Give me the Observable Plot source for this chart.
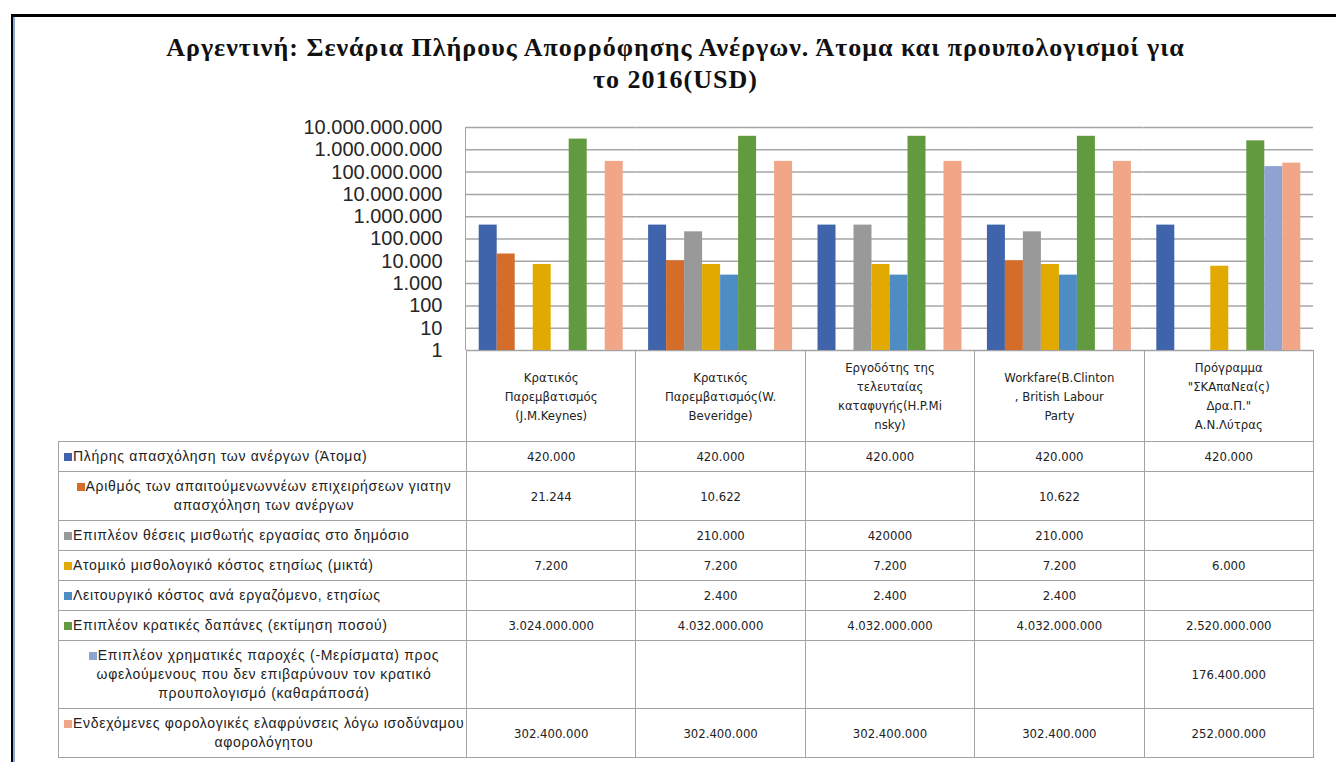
<!DOCTYPE html>
<html>
<head>
<meta charset="utf-8">
<script src="https://cdn.jsdelivr.net/npm/d3@7"></script>
<script src="https://cdn.jsdelivr.net/npm/@observablehq/plot@0.6"></script>
<style>
  html, body { margin: 0; padding: 0; background: #fff; }
  #page { position: relative; width: 1336px; height: 762px; overflow: hidden; background: #fff; }
  .line { position: absolute; }
  #title { position: absolute; top: 32px; left: 15px; width: 1321px; text-align: center;
    font-family: "Liberation Serif", "Times New Roman", serif; font-weight: bold; font-size: 26px;
    letter-spacing: 1px; line-height: 32px; color: #111; white-space: pre-line; }
  #chart { position: absolute; top: 115px; left: 0; }
  #tbl { position: absolute; left: 58px; top: 350px; border-collapse: collapse; table-layout: fixed; }
  #tbl td { border: 1px solid #a3a3a3; padding: 0 4px; vertical-align: middle; color: #222; }
  #tbl td.blank { border: none; }
  #tbl td.head { text-align: center; white-space: pre-line; line-height: 19px;
    font-family: "Liberation Sans Narrow", "DejaVu Sans Condensed", "Arial Narrow", sans-serif; font-size: 13px; }
  #tbl td.val { text-align: center;
    font-family: "Liberation Sans Narrow", "DejaVu Sans Condensed", "Arial Narrow", sans-serif; font-size: 13px; }
  #tbl td.lab { white-space: pre; line-height: 19px; font-family: "Liberation Sans", Arial, sans-serif;
    font-size: 14px; letter-spacing: 0.7px; padding-left: 5px; padding-right: 2px; overflow: visible; }
  .key { display: inline-block; width: 8px; height: 8px; margin-right: 1px; vertical-align: 0px; }
</style>
</head>
<body>
<div id="page">
  <div class="line" style="left:11px;top:14px;width:1325px;height:3px;background:#000"></div>
  <div class="line" style="left:11px;top:14px;width:2px;height:748px;background:#000"></div>
  <div class="line" style="left:13px;top:17px;width:2px;height:745px;background:#8eaadb"></div>
  <div id="title"></div>
  <div id="chart"></div>
  <div class="line" style="left:465px;top:127px;width:1px;height:223px;background:#a3a3a3"></div>
  <table id="tbl"></table>
</div>
<script>
const title = "Αργεντινή: Σενάρια Πλήρους Απορρόφησης Ανέργων. Άτομα και προυπολογισμοί για\nτο 2016(USD)";

const categories = [
  "Κρατικός\nΠαρεμβατισμός\n(J.M.Keynes)",
  "Κρατικός\nΠαρεμβατισμός(W.\nBeveridge)",
  "Εργοδότης της\nτελευταίας\nκαταφυγής(H.P.Mi\nnsky)",
  "Workfare(B.Clinton\n, British Labour\nParty",
  "Πρόγραμμα\n\"ΣΚΑπαΝεα(ς)\nΔρα.Π.\"\nΑ.Ν.Λύτρας"
];

const seriesNames = [
  "Πλήρης απασχόληση των ανέργων (Άτομα)",
  "Αριθμός των απαιτούμενωννέων επιχειρήσεων γιατην\nαπασχόληση των ανέργων",
  "Επιπλέον θέσεις μισθωτής εργασίας στο δημόσιο",
  "Ατομικό μισθολογικό κόστος ετησίως (μικτά)",
  "Λειτουργικό κόστος ανά εργαζόμενο, ετησίως",
  "Επιπλέον κρατικές δαπάνες (εκτίμηση ποσού)",
  "Επιπλέον χρηματικές παροχές (-Μερίσματα) προς\nωφελούμενους που δεν επιβαρύνουν τον κρατικό\nπρουπολογισμό (καθαράποσά)",
  "Ενδεχόμενες φορολογικές ελαφρύνσεις λόγω ισοδύναμου\nαφορολόγητου"
];

const seriesColors = ["#3f64ac", "#d46d2a", "#999999", "#e2aa00", "#4e8cc4", "#629b3f", "#8fa3d3", "#f0a687"];

const unemployedPeople   = [420000, 420000, 420000, 420000, 420000];
const newBusinesses      = [21244, 10622, null, 10622, null];
const publicJobs         = [null, 210000, 420000, 210000, null];
const wageCost           = [7200, 7200, 7200, 7200, 6000];
const operatingCost      = [null, 2400, 2400, 2400, null];
const extraSpending      = [3024000000, 4032000000, 4032000000, 4032000000, 2520000000];
const cashBenefits       = [null, null, null, null, 176400000];
const taxRelief          = [302400000, 302400000, 302400000, 302400000, 252000000];

const seriesValues = [unemployedPeople, newBusinesses, publicJobs, wageCost, operatingCost, extraSpending, cashBenefits, taxRelief];

// the one table cell that is printed without a thousands separator in the source
const ungroupedCells = [[2, 2]];

const yTicks = [1, 10, 100, 1000, 10000, 100000, 1000000, 10000000, 100000000, 1000000000, 10000000000];

const locale = d3.formatLocale({decimal: ",", thousands: ".", grouping: [3], currency: ["", ""]});
const fmt = locale.format(",d");

document.getElementById("title").textContent = title;

const data = [];
seriesValues.forEach((vals, i) => vals.forEach((v, j) => {
  if (v != null) data.push({cat: categories[j], series: seriesNames[i], value: v});
}));

const chart = Plot.plot({
  width: 1336,
  height: 235,
  marginLeft: 466,
  marginRight: 23,
  marginTop: 12,
  marginBottom: 0,
  fx: {domain: categories, padding: 0, axis: null, round: false},
  x: {domain: seriesNames, paddingInner: 0, paddingOuter: 0.706, axis: null, round: false},
  y: {type: "log", domain: [1, 1e10], ticks: yTicks, tickFormat: fmt, tickSize: 0, tickPadding: 24, label: null},
  color: {domain: seriesNames, range: seriesColors},
  style: {fontSize: "20px", fontFamily: "'Liberation Sans', Arial, sans-serif", color: "#262626", background: "transparent", overflow: "visible"},
  marks: [
    Plot.ruleY(yTicks, {stroke: "#a6a6a6", strokeWidth: 1.5}),
    Plot.barY(data, {fx: "cat", x: "series", y1: 1, y2: "value", fill: "series"})
  ]
});
document.getElementById("chart").appendChild(chart);

// data table
const tbl = document.getElementById("tbl");
const colgroup = document.createElement("colgroup");
const labW = 408, catW = 847 / categories.length;
[labW, ...categories.map(() => catW)].forEach(w => {
  const c = document.createElement("col"); c.style.width = w + "px"; colgroup.appendChild(c);
});
tbl.appendChild(colgroup);
tbl.style.width = (labW + 847) + "px";

const hr = document.createElement("tr");
hr.style.height = "91px";
const blank = document.createElement("td"); blank.className = "blank"; hr.appendChild(blank);
categories.forEach(c => { const td = document.createElement("td"); td.className = "head"; td.textContent = c; hr.appendChild(td); });
tbl.appendChild(hr);

seriesNames.forEach((name, i) => {
  const tr = document.createElement("tr");
  const lines = name.split("\n").length;
  tr.style.height = (11 + 19 * lines) + "px";
  const lab = document.createElement("td");
  lab.className = "lab";
  lab.style.textAlign = lines > 1 ? "center" : "left";
  const key = document.createElement("span");
  key.className = "key"; key.style.background = seriesColors[i];
  lab.appendChild(key);
  lab.appendChild(document.createTextNode(name));
  tr.appendChild(lab);
  seriesValues[i].forEach((v, j) => {
    const td = document.createElement("td");
    td.className = "val";
    if (v != null) {
      const plain = ungroupedCells.some(([a, b]) => a === i && b === j);
      td.textContent = plain ? String(v) : fmt(v);
    }
    tr.appendChild(td);
  });
  tbl.appendChild(tr);
});
</script>
</body>
</html>
